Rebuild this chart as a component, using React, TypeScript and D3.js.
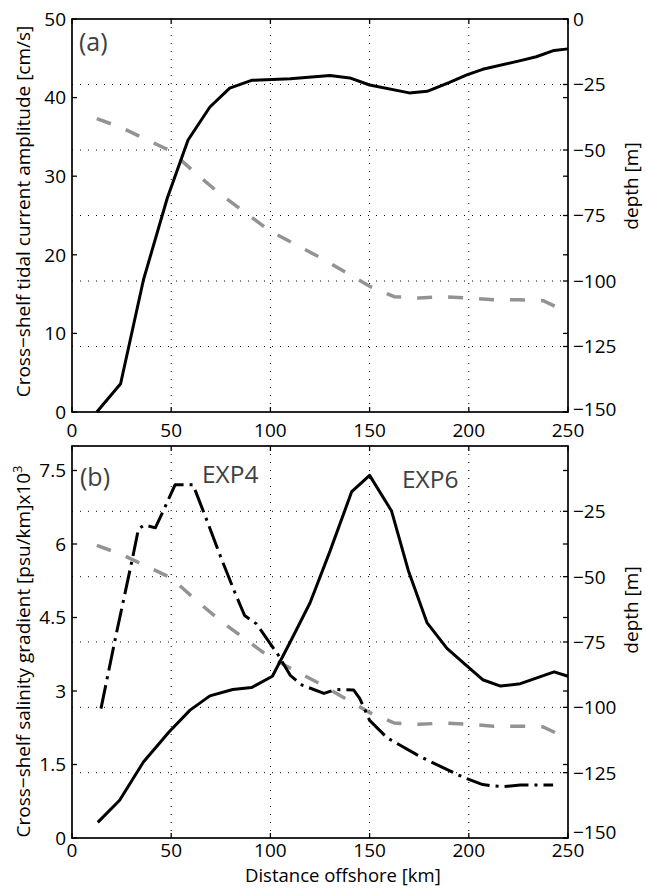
import React from "react";
import * as d3 from "d3";

// ---------- data ----------
const xTicks = [0, 50, 100, 150, 200, 250];
const xGrid = [50, 100, 150, 200];
const depthTicksA = [0, -25, -50, -75, -100, -125, -150];
const depthTicksB = [-25, -50, -75, -100, -125, -150];
const depthGrid = [-25, -50, -75, -100, -125];
const ampTicks = [0, 10, 20, 30, 40, 50];
const gradTicks = [0, 1.5, 3, 4.5, 6, 7.5];

// bathymetry (grey dashed, right axis)
const bathyKm = [12.5, 25, 37.5, 50, 62.5, 75, 87.5, 100, 112.5, 125, 137.5, 150, 162.5, 175, 187.5, 200, 212.5, 225, 237.5, 250];
const bathyDepth = [-38, -41.5, -46, -50.5, -59, -67, -74, -81, -86, -91, -96.5, -102, -106, -106.5, -106, -106.5, -107.2, -107.2, -107.5, -112];

// (a) cross-shelf tidal current amplitude
const ampKm = [12.5, 24.5, 36, 48, 58.5, 69.5, 79.5, 90.5, 110, 130, 140, 150, 170, 179, 190, 199, 207, 226, 234, 243, 250];
const ampVal = [0, 3.6, 16.8, 27.2, 34.6, 38.8, 41.2, 42.2, 42.4, 42.8, 42.5, 41.6, 40.6, 40.8, 41.9, 42.9, 43.6, 44.7, 45.2, 46.0, 46.2];

// (b) EXP6 salinity gradient
const exp6Km = [13, 24, 36, 49, 59.5, 69.5, 81, 90.5, 101, 110, 120, 130, 141, 150, 161, 169.5, 179, 189, 198, 207, 216, 226, 243, 250];
const exp6Val = [0.32, 0.77, 1.55, 2.17, 2.61, 2.9, 3.03, 3.07, 3.3, 4.0, 4.8, 5.85, 7.07, 7.4, 6.68, 5.46, 4.39, 3.87, 3.55, 3.23, 3.1, 3.15, 3.39, 3.3];

// (b) EXP4 salinity gradient
const exp4Km = [14.6, 22.5, 30.6, 33.5, 36.5, 42, 47.5, 52, 61, 68, 75, 82, 87, 93, 104, 110, 116, 127, 133, 142, 145, 150, 159, 176, 194, 199, 207, 213, 218, 226, 242.5];
const exp4Val = [2.64, 4.2, 5.73, 6.31, 6.39, 6.33, 6.81, 7.21, 7.21, 6.48, 5.73, 5.02, 4.54, 4.37, 3.73, 3.32, 3.12, 2.95, 3.03, 3.02, 2.85, 2.4, 2.04, 1.65, 1.3, 1.21, 1.09, 1.06, 1.05, 1.08, 1.08];

// ---------- layout ----------
const W = 647, H = 888;
const L = 72, R = 568;
const A_TOP = 19, A_BOT = 412;
const B_TOP = 446, B_BOT = 838;
const FONT = "'Open Sans', 'Noto Sans', sans-serif";
const TICK = 5;

const x = d3.scaleLinear().domain([0, 250]).range([L, R]);
const yAmp = d3.scaleLinear().domain([0, 50]).range([A_BOT, A_TOP]);
const yDepA = d3.scaleLinear().domain([-150, 0]).range([A_BOT, A_TOP]);
const yGrad = d3.scaleLinear().domain([0, 8]).range([B_BOT, B_TOP]);
const yDepB = d3.scaleLinear().domain([-150, 0]).range([B_BOT, B_TOP]);

const zip = (a: number[], b: number[]) => a.map((v, i) => [v, b[i]] as [number, number]);

function linePath(xs: number[], ys: number[], ys_scale: d3.ScaleLinear<number, number>) {
  const g = d3.line<[number, number]>().x((d) => x(d[0])).y((d) => ys_scale(d[1]));
  return g(zip(xs, ys)) || "";
}

const fmtDepth = (v: number) => (v < 0 ? "\u2212" + Math.abs(v) : String(v));

function Panel(props: {
  top: number;
  bot: number;
  yLeft: d3.ScaleLinear<number, number>;
  yDep: d3.ScaleLinear<number, number>;
  leftTicks: number[];
  depthTicks: number[];
  xLabelY: number;
  bottomLabelShift: number;
}) {
  const { top, bot, yLeft, yDep, leftTicks, depthTicks, xLabelY, bottomLabelShift } = props;
  return (
    <g>
      {/* grid */}
      {xGrid.map((t) => (
        <line key={"vg" + t} x1={x(t)} x2={x(t)} y1={top} y2={bot} stroke="#000" strokeWidth={1} strokeDasharray="1 7" />
      ))}
      {depthGrid.map((t) => (
        <line key={"hg" + t} x1={L} x2={R} y1={yDep(t)} y2={yDep(t)} stroke="#000" strokeWidth={1} strokeDasharray="1 7" />
      ))}
      {/* x ticks top & bottom */}
      {xTicks.map((t) => (
        <g key={"xt" + t}>
          <line x1={x(t)} x2={x(t)} y1={bot} y2={bot - TICK} stroke="#000" strokeWidth={1.3} />
          <line x1={x(t)} x2={x(t)} y1={top} y2={top + TICK} stroke="#000" strokeWidth={1.3} />
          <text x={x(t)} y={xLabelY} textAnchor="middle" fontFamily={FONT} fontSize={19} fill="#000">
            {t}
          </text>
        </g>
      ))}
      {/* left ticks (also mirrored on right) */}
      {leftTicks.map((t) => (
        <g key={"lt" + t}>
          <line x1={L} x2={L + TICK} y1={yLeft(t)} y2={yLeft(t)} stroke="#000" strokeWidth={1.3} />
          <line x1={R} x2={R - TICK} y1={yLeft(t)} y2={yLeft(t)} stroke="#000" strokeWidth={1.3} />
          <text x={66} y={yLeft(t)} dy="0.36em" textAnchor="end" fontFamily={FONT} fontSize={19} fill="#000">
            {t}
          </text>
        </g>
      ))}
      {/* right depth ticks */}
      {depthTicks.map((t) => (
        <g key={"rt" + t}>
          <line x1={R} x2={R - TICK} y1={yDep(t)} y2={yDep(t)} stroke="#000" strokeWidth={1.3} />
          <text
            x={573}
            y={yDep(t) - (t === -150 ? bottomLabelShift : 0)}
            dy="0.36em"
            textAnchor="start"
            fontFamily={FONT}
            fontSize={19}
            fill="#000"
          >
            {fmtDepth(t)}
          </text>
        </g>
      ))}
      {/* frame */}
      <rect x={L} y={top} width={R - L} height={bot - top} fill="none" stroke="#000" strokeWidth={1.7} />
    </g>
  );
}

export default function App() {
  return (
    <svg width={W} height={H} style={{ position: "absolute", left: 0, top: 0, background: "#fff" }}>
      <rect x={0} y={0} width={W} height={H} fill="#fff" />

      {/* ---------- panel (a) ---------- */}
      <Panel top={A_TOP} bot={A_BOT} yLeft={yAmp} yDep={yDepA} leftTicks={ampTicks} depthTicks={depthTicksA} xLabelY={437} bottomLabelShift={3} />
      <path d={linePath(bathyKm, bathyDepth, yDepA)} fill="none" stroke="#939393" strokeWidth={3.5} strokeDasharray="15 16" />
      <path d={linePath(ampKm, ampVal, yAmp)} fill="none" stroke="#000" strokeWidth={3} strokeLinejoin="round" />
      <text x={79} y={51} fontFamily={FONT} fontSize={25} fill="#404040">(a)</text>
      <text transform={`translate(30,211.5) rotate(-90)`} textAnchor="middle" fontFamily={FONT} fontSize={19} fill="#000">
        Cross{"\u2212"}shelf tidal current amplitude [cm/s]
      </text>
      <text transform={`translate(638,186) rotate(-90)`} textAnchor="middle" fontFamily={FONT} fontSize={19} fill="#000">
        depth [m]
      </text>

      {/* ---------- panel (b) ---------- */}
      <Panel top={B_TOP} bot={B_BOT} yLeft={yGrad} yDep={yDepB} leftTicks={gradTicks} depthTicks={depthTicksB} xLabelY={857} bottomLabelShift={6} />
      <path d={linePath(bathyKm, bathyDepth, yDepB)} fill="none" stroke="#939393" strokeWidth={3.5} strokeDasharray="15 16" />
      <path d={linePath(exp4Km, exp4Val, yGrad)} fill="none" stroke="#000" strokeWidth={3} strokeLinejoin="round" strokeDasharray="24 6 3 6" />
      <path d={linePath(exp6Km, exp6Val, yGrad)} fill="none" stroke="#000" strokeWidth={3} strokeLinejoin="round" />
      <text x={80} y={486} fontFamily={FONT} fontSize={25} fill="#404040">(b)</text>
      <text x={202} y={483} fontFamily={FONT} fontSize={24.5} fill="#404040">EXP4</text>
      <text x={402} y={488} fontFamily={FONT} fontSize={24.5} fill="#404040">EXP6</text>
      <text transform={`translate(30,651.5) rotate(-90)`} textAnchor="middle" fontFamily={FONT} fontSize={19} fill="#000">
        Cross{"\u2212"}shelf salinity gradient [psu/km]x10
        <tspan fontSize={13} dy={-8}>3</tspan>
      </text>
      <text transform={`translate(638,610) rotate(-90)`} textAnchor="middle" fontFamily={FONT} fontSize={19} fill="#000">
        depth [m]
      </text>
      <text x={245} y={882} fontFamily={FONT} fontSize={18.5} fill="#000">
        Distance offshore [km]
      </text>
    </svg>
  );
}
